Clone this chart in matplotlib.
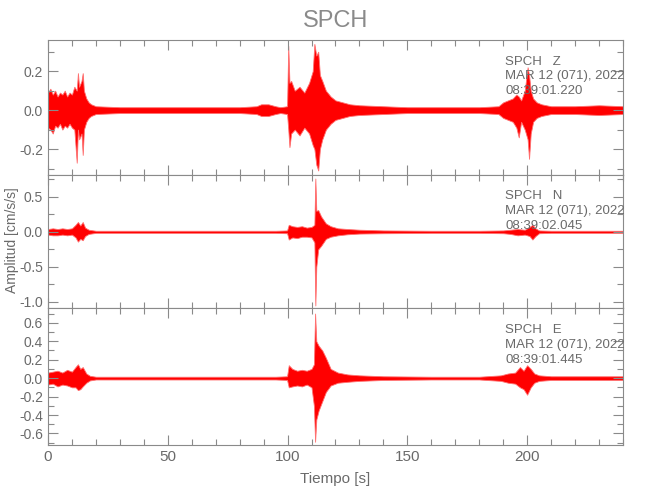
import matplotlib
matplotlib.use("Agg")
import matplotlib.pyplot as plt
from matplotlib.ticker import MultipleLocator, FormatStrFormatter

plt.rcParams["font.family"] = ["Liberation Sans", "DejaVu Sans"]

# envelope of each trace (time [s], upper, lower)
z_t = [0, 1, 2, 3, 4, 5, 6, 7, 8, 9, 10, 11, 12, 12.5, 13, 14, 14.5, 15, 16, 17, 18, 20,
       30, 40, 50, 60, 70, 80, 87, 89, 92, 95, 97, 99.8, 100.3, 100.8, 101.5, 103, 105, 107,
       109, 110.5, 111.2, 112, 112.8, 113.5, 114.5, 116, 118, 120, 123, 126, 130, 140, 150,
       160, 170, 180, 188, 190, 192, 194, 195.5, 196.5, 197.5, 199, 200.2, 200.8, 201.5,
       202.5, 204, 206, 210, 220, 230, 240]
z_hi = [0.09, 0.11, 0.08, 0.10, 0.07, 0.09, 0.08, 0.10, 0.07, 0.09, 0.08, 0.12, 0.10, 0.19,
        0.12, 0.15, 0.19, 0.10, 0.06, 0.04, 0.03, 0.02, 0.015, 0.015, 0.015, 0.015, 0.015,
        0.015, 0.02, 0.03, 0.03, 0.02, 0.015, 0.02, 0.33, 0.14, 0.15, 0.10, 0.12, 0.09, 0.14,
        0.20, 0.34, 0.28, 0.30, 0.18, 0.15, 0.10, 0.07, 0.05, 0.04, 0.03, 0.025, 0.02, 0.015,
        0.015, 0.015, 0.015, 0.02, 0.04, 0.05, 0.06, 0.08, 0.07, 0.05, 0.10, 0.22, 0.18, 0.10,
        0.06, 0.04, 0.03, 0.02, 0.02, 0.025, 0.02]
z_lo = [-0.09, -0.10, -0.12, -0.08, -0.09, -0.07, -0.10, -0.08, -0.09, -0.07, -0.09, -0.10,
        -0.27, -0.10, -0.15, -0.12, -0.23, -0.10, -0.06, -0.04, -0.03, -0.02, -0.015, -0.015,
        -0.015, -0.015, -0.015, -0.015, -0.02, -0.03, -0.03, -0.02, -0.015, -0.02, -0.10,
        -0.19, -0.12, -0.10, -0.13, -0.09, -0.12, -0.18, -0.20, -0.28, -0.31, -0.20, -0.15,
        -0.10, -0.07, -0.05, -0.04, -0.03, -0.025, -0.02, -0.015, -0.015, -0.015, -0.015,
        -0.02, -0.04, -0.05, -0.06, -0.09, -0.14, -0.06, -0.10, -0.15, -0.25, -0.12, -0.06,
        -0.04, -0.03, -0.02, -0.02, -0.025, -0.02]

n_t = [0, 2, 4, 6, 8, 10, 11.5, 12.5, 13.5, 14.5, 15.5, 17, 20, 40, 60, 80, 95, 99.8, 100.5,
       102, 104, 106, 108, 110, 111.2, 111.6, 112, 112.8, 114, 116, 118, 121, 125, 130, 140,
       160, 180, 190, 193, 196, 199, 201, 202.2, 203.5, 205, 210, 240]
n_hi = [0.04, 0.05, 0.04, 0.05, 0.04, 0.05, 0.10, 0.14, 0.09, 0.14, 0.06, 0.03, 0.015, 0.015,
        0.015, 0.015, 0.015, 0.02, 0.10, 0.08, 0.07, 0.08, 0.06, 0.07, 0.10, 0.76, 0.30, 0.31,
        0.22, 0.12, 0.08, 0.05, 0.04, 0.03, 0.02, 0.015, 0.015, 0.02, 0.03, 0.04, 0.03, 0.07,
        0.10, 0.05, 0.02, 0.015, 0.015]
n_lo = [-0.04, -0.05, -0.05, -0.04, -0.05, -0.04, -0.08, -0.14, -0.10, -0.12, -0.06, -0.03,
        -0.015, -0.015, -0.015, -0.015, -0.015, -0.02, -0.11, -0.08, -0.09, -0.07, -0.07,
        -0.08, -0.15, -1.05, -0.50, -0.25, -0.20, -0.10, -0.07, -0.05, -0.035, -0.025, -0.02,
        -0.015, -0.015, -0.02, -0.03, -0.05, -0.04, -0.06, -0.11, -0.06, -0.02, -0.015, -0.015]

e_t = [0, 2, 4, 6, 8, 10, 11.5, 12.5, 13.5, 14.5, 16, 17.5, 20, 40, 60, 80, 95, 99.8, 100.5,
       102, 104, 106, 108, 110, 111, 111.5, 112, 113, 114.5, 116, 118, 121, 125, 130, 140,
       160, 180, 189, 192, 195, 197, 198.5, 200, 201.5, 203, 205, 210, 240]
e_hi = [0.06, 0.07, 0.08, 0.06, 0.09, 0.07, 0.12, 0.15, 0.10, 0.12, 0.05, 0.025, 0.015, 0.015,
        0.015, 0.015, 0.015, 0.02, 0.14, 0.10, 0.08, 0.09, 0.08, 0.10, 0.15, 0.70, 0.40, 0.35,
        0.30, 0.22, 0.10, 0.06, 0.04, 0.03, 0.02, 0.015, 0.015, 0.03, 0.05, 0.06, 0.12, 0.08,
        0.14, 0.10, 0.05, 0.03, 0.02, 0.02]
e_lo = [-0.07, -0.06, -0.09, -0.07, -0.08, -0.10, -0.10, -0.13, -0.12, -0.09, -0.05, -0.025,
        -0.015, -0.015, -0.015, -0.015, -0.015, -0.02, -0.10, -0.09, -0.08, -0.09, -0.07,
        -0.10, -0.30, -0.69, -0.45, -0.35, -0.25, -0.15, -0.08, -0.05, -0.04, -0.03, -0.02,
        -0.015, -0.015, -0.03, -0.05, -0.06, -0.10, -0.12, -0.18, -0.10, -0.05, -0.03, -0.02,
        -0.02]

components = ["Z", "N", "E"]
start_times = ["08:39:01.220", "08:39:02.045", "08:39:01.445"]
date_label = "MAR 12 (071), 2022"
station = "SPCH"

GRAY = "#8a8a8a"
TXT = "#6a6a6a"

traces = [(z_t, z_hi, z_lo), (n_t, n_hi, n_lo), (e_t, e_hi, e_lo)]
ylims = [(-0.333, 0.36), (-1.086, 0.81), (-0.725, 0.76)]
majors = [0.2, 0.5, 0.2]
minors = [0.1, 0.25, 0.1]
# panel boxes in figure fractions (left, bottom, width, height)
boxes = [(0.0738, 0.65, 0.8846, 0.27),
         (0.0738, 0.384, 0.8846, 0.266),
         (0.0738, 0.11, 0.8846, 0.274)]

fig = plt.figure(figsize=(6.5, 5), dpi=100)

for i, (t, hi, lo) in enumerate(traces):
    ax = fig.add_axes(boxes[i])
    ax.fill_between(t, lo, hi, color="red", lw=0.6, edgecolor="#ff7070")
    ax.set_xlim(0, 240)
    ax.set_ylim(*ylims[i])

    ax.xaxis.set_major_locator(MultipleLocator(50))
    ax.xaxis.set_minor_locator(MultipleLocator(10))
    ax.yaxis.set_major_locator(MultipleLocator(majors[i]))
    ax.yaxis.set_minor_locator(MultipleLocator(minors[i]))
    ax.yaxis.set_major_formatter(FormatStrFormatter("%.1f"))

    ax.tick_params(which="both", direction="in", top=True, right=True,
                   color=GRAY, labelcolor=TXT, labelsize=10)
    ax.tick_params(which="major", length=7, width=0.8)
    ax.tick_params(which="minor", length=4, width=0.8)
    for s in ax.spines.values():
        s.set_color(GRAY)
        s.set_linewidth(0.8)

    if i < 2:
        ax.tick_params(labelbottom=False)
    else:
        ax.tick_params(axis="x", labelsize=11)

    ax.text(0.795, 0.84, f"{station}   {components[i]}", transform=ax.transAxes,
            color=TXT, fontsize=9.5, ha="left", va="center")
    ax.text(0.795, 0.73, date_label, transform=ax.transAxes,
            color=TXT, fontsize=9.5, ha="left", va="center")
    ax.text(0.795, 0.62, start_times[i], transform=ax.transAxes,
            color=TXT, fontsize=9.5, ha="left", va="center")

    if i == 2:
        ax.set_xlabel("Tiempo [s]", color=TXT, fontsize=11, labelpad=6)

fig.text(0.018, 0.52, "Amplitud [cm/s/s]", color=TXT, fontsize=10,
         rotation=90, ha="center", va="center")
fig.text(0.516, 0.958, station, color=GRAY, fontsize=17, ha="center", va="center")

fig.savefig("out.png", dpi=100)
